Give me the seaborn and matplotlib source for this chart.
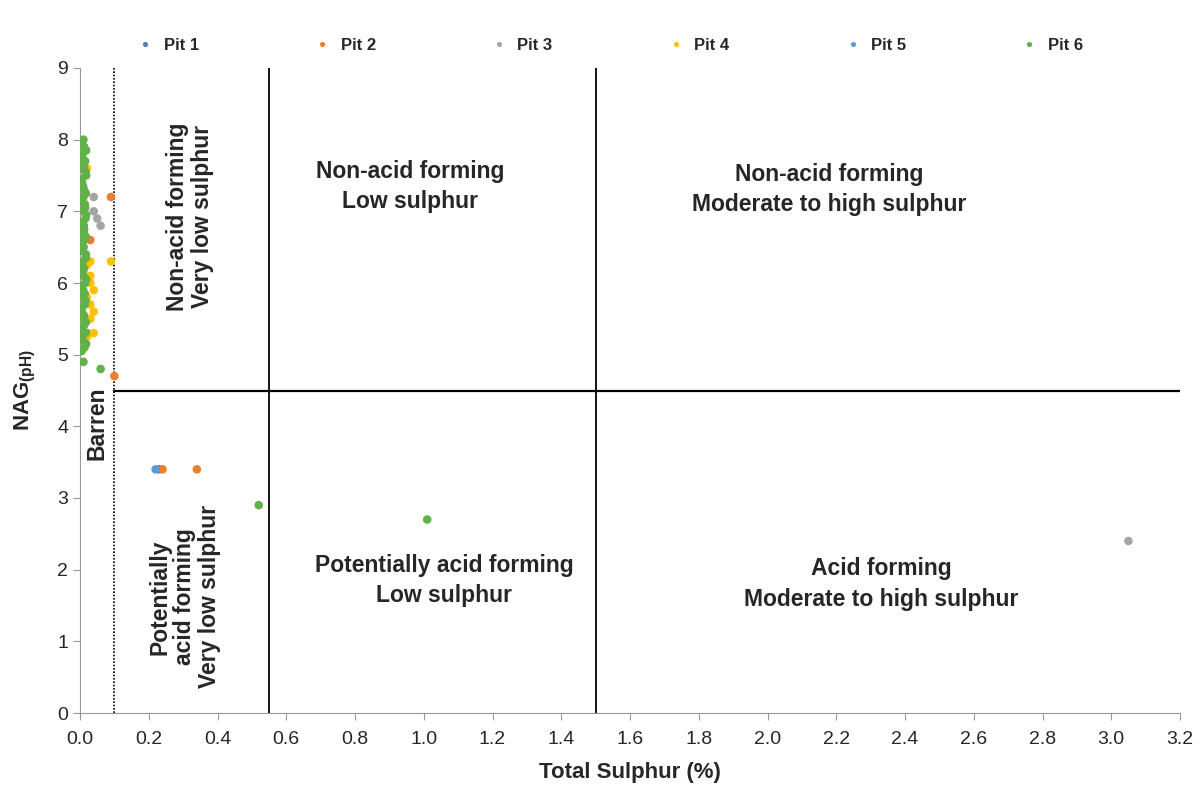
import pandas as pd
import matplotlib.pyplot as plt
import seaborn as sns

# Data (Total Sulphur %, NAG pH)
pit1_s = [0.01, 0.23, 0.02]
pit1_ph = [6.7, 3.4, 5.3]

pit2_s = [0.09, 0.03, 0.10, 0.24, 0.34, 0.01, 0.02]
pit2_ph = [7.2, 6.6, 4.7, 3.4, 3.4, 5.4, 5.5]

pit3_s = [0.04, 0.05, 0.06, 0.04, 3.05]
pit3_ph = [7.2, 6.9, 6.8, 7.0, 2.4]

pit4_s = [0.09, 0.03, 0.04, 0.03, 0.04, 0.03, 0.02, 0.04, 0.02, 0.03, 0.02, 0.01, 0.03, 0.02]
pit4_ph = [6.3, 6.1, 5.9, 5.7, 5.6, 5.5, 5.25, 5.3, 6.25, 6.0, 7.6, 5.2, 6.3, 5.8]

pit5_s = [0.01, 0.22]
pit5_ph = [6.5, 3.4]

pit6_s = [0.010, 0.012, 0.008, 0.015, 0.010, 0.018, 0.006, 0.012, 0.010, 0.014,
          0.009, 0.016, 0.011, 0.007, 0.013, 0.010, 0.017, 0.008, 0.012, 0.010,
          0.015, 0.009, 0.011, 0.014, 0.006, 0.012, 0.010, 0.016, 0.008, 0.013,
          0.004, 0.011, 0.009, 0.015, 0.012, 0.004, 0.008, 0.014, 0.011, 0.005,
          0.018, 0.005, 0.016, 0.004, 0.017, 0.006, 0.018, 0.005, 0.016, 0.004,
          0.017, 0.006, 0.018, 0.005, 0.016, 0.004, 0.017, 0.006, 0.018, 0.005,
          0.010, 0.060, 0.520, 1.010]
pit6_ph = [8.0, 7.9, 7.8, 7.7, 7.6, 7.5, 7.4, 7.3, 7.2, 7.1,
           7.0, 6.9, 6.8, 6.7, 6.6, 6.5, 6.4, 6.3, 6.2, 6.1,
           6.0, 5.9, 5.8, 5.7, 5.6, 5.5, 5.4, 5.3, 5.2, 5.1,
           7.95, 7.65, 7.35, 7.05, 6.75, 6.45, 6.15, 5.85, 5.55, 5.25,
           7.85, 7.75, 7.55, 7.45, 7.25, 7.15, 6.95, 6.85, 6.65, 6.55,
           6.35, 6.25, 6.05, 5.95, 5.75, 5.65, 5.45, 5.35, 5.15, 5.05,
           4.9, 4.8, 2.9, 2.7]

pits = ["Pit 1", "Pit 2", "Pit 3", "Pit 4", "Pit 5", "Pit 6"]
colors = ["#4f81bd", "#ed7d31", "#a5a5a5", "#ffc000", "#5b9bd5", "#62b04a"]

frames = []
for name, s, ph in zip(pits,
                       [pit1_s, pit2_s, pit3_s, pit4_s, pit5_s, pit6_s],
                       [pit1_ph, pit2_ph, pit3_ph, pit4_ph, pit5_ph, pit6_ph]):
    frames.append(pd.DataFrame({"Total Sulphur": s, "NAG": ph, "Pit": name}))
df = pd.concat(frames, ignore_index=True)

sns.set_style("white")
plt.rcParams['font.family'] = ['Liberation Sans', 'DejaVu Sans']

fig = plt.figure(figsize=(12.01, 7.88), dpi=100)
ax = fig.add_axes([80 / 1201, 1 - 713 / 788, 1100 / 1201, 645 / 788])

sns.scatterplot(data=df, x="Total Sulphur", y="NAG", hue="Pit",
                palette=dict(zip(pits, colors)), s=38, edgecolor="none",
                ax=ax, zorder=3)

# Classification boundaries
ax.axvline(0.1, color="black", linestyle=(0, (1, 1)), linewidth=1.2)
ax.axvline(0.55, color="black", linewidth=1.3)
ax.axvline(1.5, color="black", linewidth=1.3)
ax.plot([0.1, 3.2], [4.5, 4.5], color="black", linewidth=1.6)

# Region labels
kw = dict(fontsize=16.5, fontweight="bold", ha="center", va="center",
          linespacing=1.4)
ax.text(0.96, 7.35, "Non-acid forming\nLow sulphur", **kw)
ax.text(2.18, 7.3, "Non-acid forming\nModerate to high sulphur", **kw)
ax.text(1.06, 1.85, "Potentially acid forming\nLow sulphur", **kw)
ax.text(2.33, 1.8, "Acid forming\nModerate to high sulphur", **kw)
kw["linespacing"] = 1.1
ax.text(0.32, 6.93, "Non-acid forming\nVery low sulphur", rotation=90, **kw)
ax.text(0.305, 1.62, "Potentially\nacid forming\nVery low sulphur", rotation=90, **kw)
ax.text(0.05, 4.05, "Barren", rotation=90, **kw)

ax.set_xlim(0, 3.2)
ax.set_ylim(0, 9)
ax.set_xticks([i * 0.2 for i in range(17)])
ax.set_xticklabels([f"{i * 0.2:.1f}" for i in range(17)])
ax.set_yticks(range(10))
ax.tick_params(axis="both", labelsize=14, length=5, direction="out",
               bottom=True, left=True, color="#999999")
ax.tick_params(axis="x", pad=8)
ax.set_xlabel("Total Sulphur (%)", fontsize=16, fontweight="bold", labelpad=10)
ax.set_ylabel("NAG$_{\\mathregular{(pH)}}$", fontsize=16, fontweight="bold",
              labelpad=14)

for side in ["top", "right"]:
    ax.spines[side].set_visible(False)
for side in ["left", "bottom"]:
    ax.spines[side].set_color("#999999")

leg = ax.legend(loc="lower center", bbox_to_anchor=(0.478, 1.0), ncol=6,
                frameon=False, fontsize=12, markerscale=0.6,
                handletextpad=0.1, columnspacing=6.4)
for t in leg.get_texts():
    t.set_fontweight("bold")

fig.savefig("out.png", dpi=100)
